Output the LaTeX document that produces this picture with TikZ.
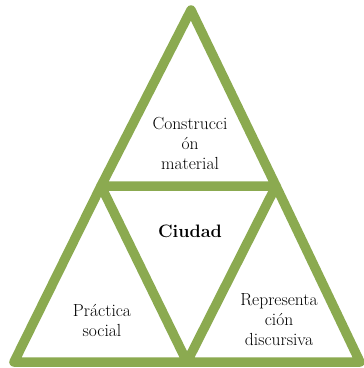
\documentclass[tikz,border=0pt]{standalone}
\usepackage{xcolor}
\usepackage{tikz}

\definecolor{olive}{RGB}{139,170,80}

\begin{document}
\begin{tikzpicture}[x=1pt, y=-1pt,
    side/.style={draw=olive, line width=9.5pt, line join=round},
    label/.style={align=center, font=\fontsize{17.5}{20}\selectfont}]
    \useasboundingbox[fill=white] (0,0) rectangle (364,368);

    % corners of the three triangles
    \coordinate (apex) at (191,10);
    \coordinate (midleft) at (101,186);
    \coordinate (midright) at (276,186);
    \coordinate (lowleft) at (14,362);
    \coordinate (lowmid) at (187,362);
    \coordinate (lowright) at (360,362);

    \draw[side] (apex) -- (midright) -- (midleft) -- cycle;
    \draw[side] (midleft) -- (lowmid) -- (lowleft) -- cycle;
    \draw[side] (midright) -- (lowright) -- (lowmid) -- cycle;

    \node[label] (construccion) at (190,143) {Construcci\\ón\\material};
    \node[label, font=\fontsize{18}{20}\selectfont\bfseries] (ciudad) at (190,231) {Ciudad};
    \node[label] (practica) at (102,320) {Práctica\\social};
    \node[label] (representacion) at (279,320) {Representa\\ción\\discursiva};
\end{tikzpicture}
\end{document}
